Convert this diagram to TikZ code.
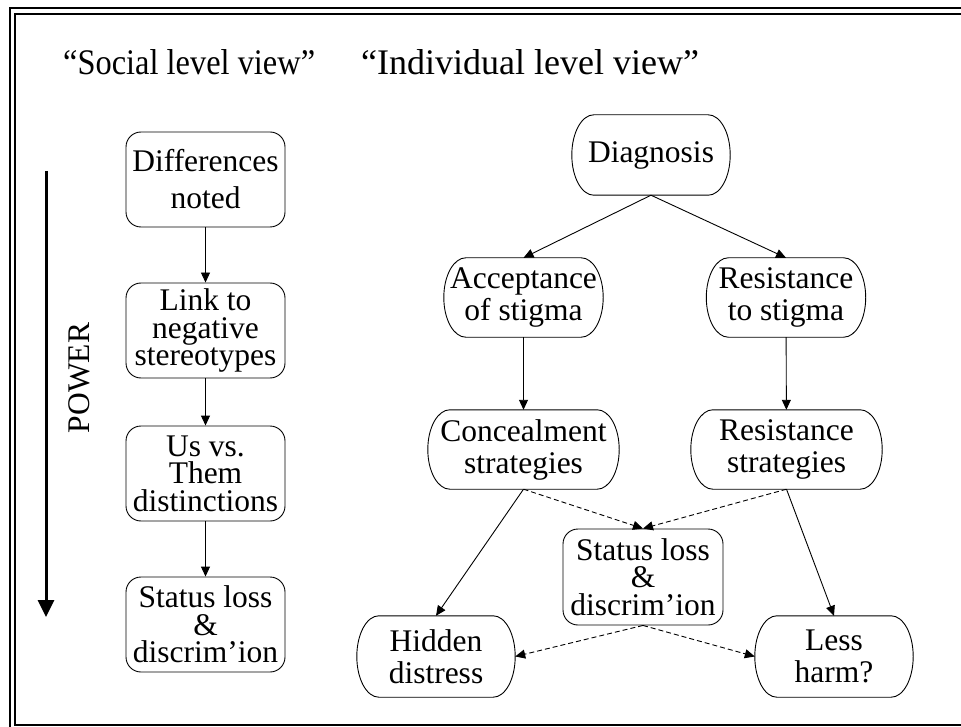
\documentclass[tikz,border=0pt]{standalone}
\usepackage{fontspec}
\setmainfont{Liberation Serif}
\usetikzlibrary{arrows.meta,calc,positioning}
\tikzset{stage/.style={rectangle,rounded corners=15pt,draw,line width=0.9pt,align=center,
inner sep=0pt,minimum width=159pt,minimum height=95pt,font=\fontsize{31.5}{27.5}\selectfont},
state/.style={rectangle,align=center,inner sep=0pt,minimum width=158pt,
minimum height=80pt,font=\fontsize{31.5}{32}\selectfont},
title/.style={anchor=base west,inner sep=0pt,font=\fontsize{36}{36}\selectfont},
>={Triangle[length=10pt,width=9pt]},
link/.style={->,line width=0.9pt},
maybe/.style={link,dash pattern=on 5pt off 3pt}}

\begin{document}
\begin{tikzpicture}[x=1pt,y=1pt]
  \useasboundingbox (0,0) rectangle (961,-727);
  % frame
  \draw [line width=2.5pt] (10,-727) -- (10,-8) -- (961,-8);
  \draw [line width=2pt] (961,-725) -- (15,-725) -- (15,-14) -- (961,-14);
  \node (soc) [title] at (63,-75) {\scalebox{0.9}[1]{“Social level view”}};
  \node (ind) [title] at (361,-75) {“Individual level view”};
  % social level
  \node (diff) [stage,font=\fontsize{31.5}{37}\selectfont] at (205.5,-179.5) {Differences\\noted};
  \node (link) [stage] at (205.5,-330.5) {Link to\\negative\\stereotypes};
  \node (usthem) [stage] at (205.5,-473.5) {Us vs.\\Them\\distinctions};
  \node (loss) [stage] at (205.5,-624.5) {Status loss\\\&\\discrim’ion};
  \draw [link] (diff) -- (link);
  \draw [link] (link) -- (usthem);
  \draw [link] (usthem) -- (loss);
  \coordinate (ptop) at (46,-171);
  \coordinate (pend) at (46,-617);
  \draw [line width=3pt,-{Triangle[length=17pt,width=16pt]}] (ptop) -- (pend);
  \node (power) [rotate=90,font=\fontsize{31.5}{32}\selectfont] at (79,-378) {POWER};
  % individual level
  \node (diag) [state] at (651,-155) {Diagnosis};
  \node (accept) [state,minimum width=159pt,minimum height=79pt] at (523.5,-297.5) {Acceptance\\of stigma};
  \node (resist) [state,minimum width=159pt,minimum height=79pt] at (786,-297.5) {Resistance\\to stigma};
  \node (conceal) [state,minimum width=191pt,minimum height=79pt] at (523.5,-449.5) {Concealment\\strategies};
  \node (fight) [state,minimum width=191pt,minimum height=79pt] at (786.5,-449.5) {Resistance\\strategies};
  \node (loss2) [stage,minimum width=160pt,minimum height=96pt] at (643,-577) {Status loss\\\&\\discrim’ion};
  \node (hidden) [state,minimum height=81pt] at (436,-656.5) {Hidden\\distress};
  \node (less) [state,minimum height=81pt] at (834,-656.5) {Less\\harm?};
  \foreach \nd in {diag,accept,resist,conceal,fight,hidden,less}
    \draw [line width=0.9pt] let \p1=(\nd.north east), \p2=(\nd.south west), \n1={(\y1-\y2)/2} in
      (\x2+22pt,\y1) -- (\x1-22pt,\y1) arc[start angle=90,end angle=-90,x radius=22pt,y radius=\n1]
      -- (\x2+22pt,\y2) arc[start angle=270,end angle=90,x radius=22pt,y radius=\n1] -- cycle;
  \draw [link] (diag.south) -- (accept.north);
  \draw [link] (diag.south) -- (resist.north);
  \draw [link] (accept) -- (conceal);
  \draw [link] (resist) -- (fight);
  \draw [link] (conceal.south) -- (hidden.north);
  \draw [link] (fight.south) -- (less.north);
  \draw [maybe] (conceal.south) -- (loss2.north);
  \draw [maybe] (fight.south) -- (loss2.north);
  \draw [maybe] (loss2.south) -- (hidden.east);
  \draw [maybe] (loss2.south) -- (less.west);
\end{tikzpicture}
\end{document}
